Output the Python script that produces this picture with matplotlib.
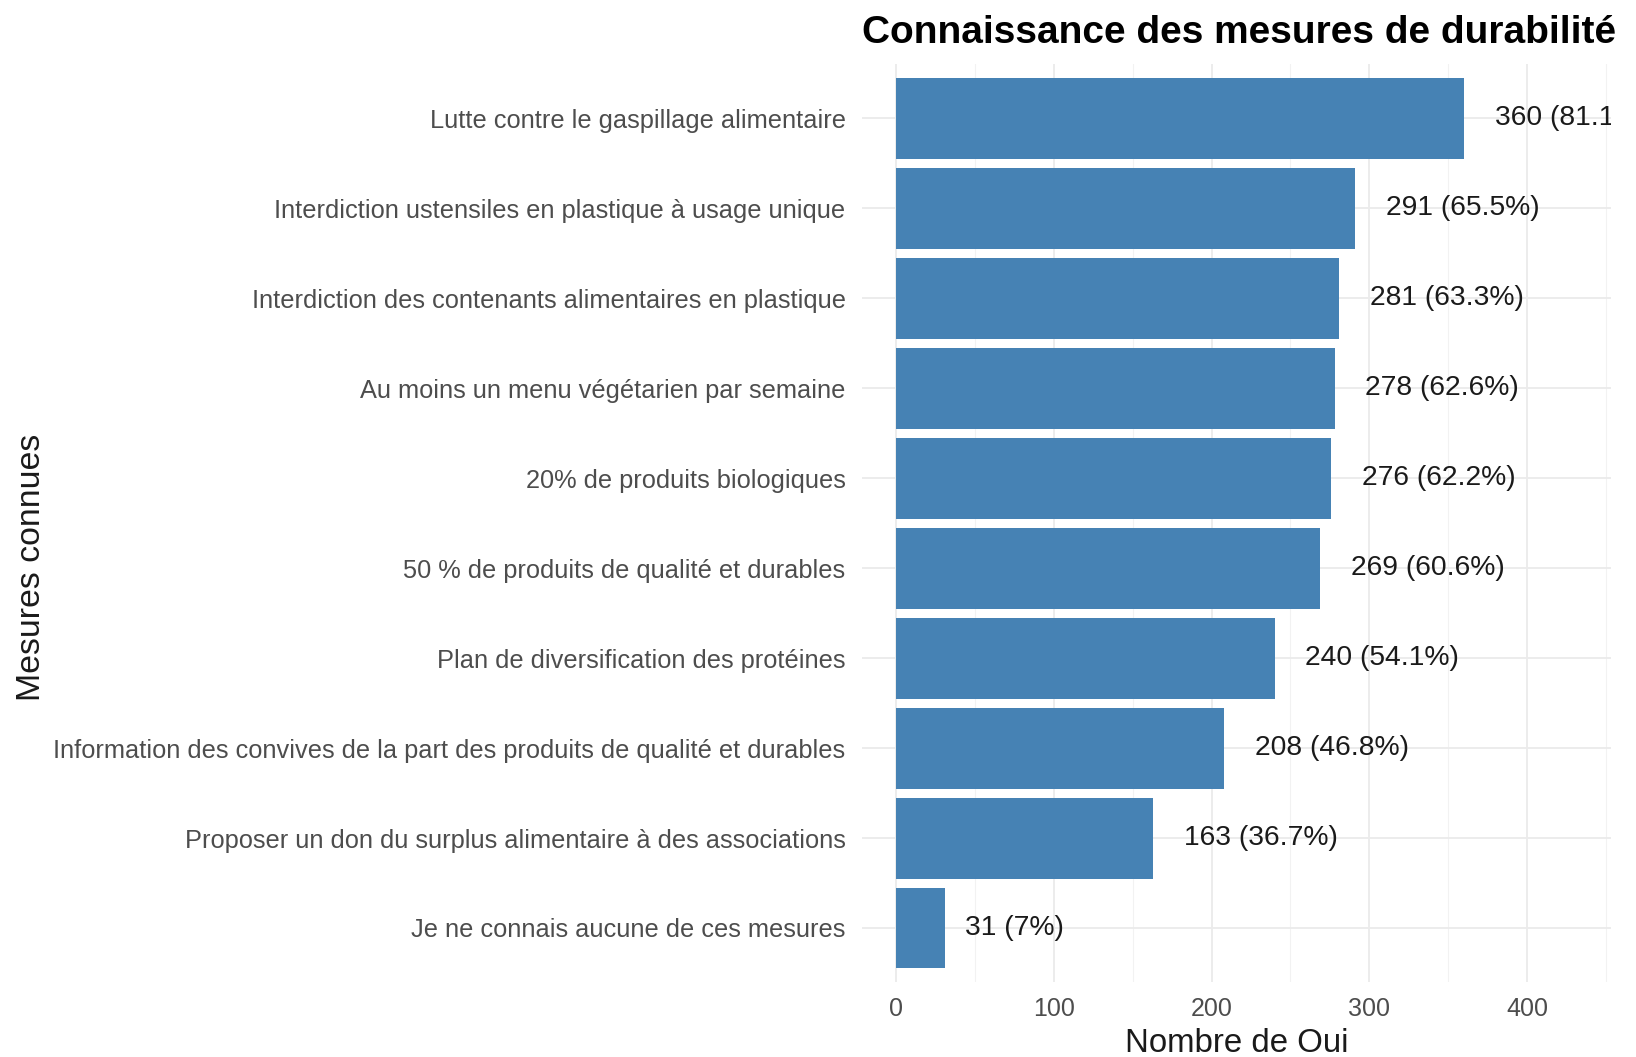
import matplotlib.pyplot as plt
from matplotlib.ticker import MultipleLocator
import numpy as np

plt.rcParams['font.family'] = ['Liberation Sans', 'DejaVu Sans']

mesures = [
    "Lutte contre le gaspillage alimentaire",
    "Interdiction ustensiles en plastique à usage unique",
    "Interdiction des contenants alimentaires en plastique",
    "Au moins un menu végétarien par semaine",
    "20% de produits biologiques",
    "50 % de produits de qualité et durables",
    "Plan de diversification des protéines",
    "Information des convives de la part des produits de qualité et durables",
    "Proposer un don du surplus alimentaire à des associations",
    "Je ne connais aucune de ces mesures",
]
nb_oui = [360, 291, 281, 278, 276, 269, 240, 208, 163, 31]
pct = ["81.1", "65.5", "63.3", "62.6", "62.2", "60.6", "54.1", "46.8", "36.7", "7"]

fig = plt.figure(figsize=(16.36, 10.57), dpi=100)
ax = fig.add_axes([0.527, 0.071, 0.458, 0.868])

y = np.arange(len(mesures))
ax.barh(y, nb_oui, height=0.9, color="#4682B4", zorder=2)

ax.set_ylim(len(mesures) - 0.4, -0.6)
ax.set_xlim(-21.6, 453.6)
ax.set_yticks(y)
ax.set_yticklabels(mesures)
ax.xaxis.set_major_locator(MultipleLocator(100))
ax.xaxis.set_minor_locator(MultipleLocator(50))

ax.grid(axis="x", which="major", color="#EBEBEB", linewidth=1.3, zorder=0)
ax.grid(axis="x", which="minor", color="#F2F2F2", linewidth=0.8, zorder=0)
ax.grid(axis="y", which="major", color="#EBEBEB", linewidth=1.3, zorder=0)
for s in ax.spines.values():
    s.set_visible(False)
ax.tick_params(axis="both", which="both", length=0)
ax.tick_params(axis="y", labelsize=18.3, labelcolor="#4D4D4D", pad=12)
ax.tick_params(axis="x", labelsize=18, labelcolor="#4D4D4D", pad=11)

ax.set_xlabel("Nombre de Oui", fontsize=23.8, color="#1a1a1a", labelpad=5)
fig.text(0.019, 0.4636, "Mesures connues", rotation=90, fontsize=24.4,
         color="#1a1a1a", ha="center", va="center")

fig.text(0.527, 0.969, "Connaissance des mesures de durabilité", fontsize=28,
         fontweight="bold", color="#000000", ha="left", va="center")

# labels placed with hjust = -0.2 (offset = 20% of text width), clipped to panel
fig.canvas.draw()
renderer = fig.canvas.get_renderer()
for yi, v, p in zip(y, nb_oui, pct):
    t = ax.text(v, yi, f"{v} ({p}%)", fontsize=20.3, color="#1a1a1a",
                ha="left", va="center", clip_on=True)
    w = t.get_window_extent(renderer).width
    x0 = ax.transData.transform((v, yi))[0] + 0.2 * w
    t.set_x(ax.transData.inverted().transform((x0, 0))[0])

fig.savefig("out.png", dpi=100)
